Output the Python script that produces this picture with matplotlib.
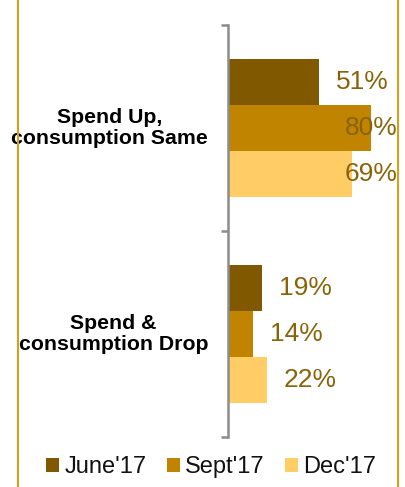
import matplotlib
matplotlib.use("Agg")
from matplotlib import pyplot as plt
from matplotlib.lines import Line2D
import numpy as np

categories = ["Spend Up,\nconsumption Same", "Spend &\nconsumption Drop"]
series = ["June'17", "Sept'17", "Dec'17"]
june = [0.51, 0.19]
sept = [0.80, 0.14]
dec = [0.69, 0.22]
colors = ["#7F5800", "#C08400", "#FFCC66"]

plt.rcParams['font.family'] = ['Liberation Sans', 'DejaVu Sans']

W, H = 405, 487
fig = plt.figure(figsize=(W / 100, H / 100), dpi=100)
fig.patch.set_facecolor("white")

# axes: left spine at x=228 px, from y=25 to y=437 px, right edge at 398 px
ax = fig.add_axes([228 / W, 1 - 437 / H, (398 - 228) / W, (437 - 25) / H])
ax.set_xlim(0, 170 / 179)
ax.set_ylim(1.5, -0.5)

bh = 0.222
y = np.arange(len(categories))
for i, (name, vals) in enumerate(zip(series, [june, sept, dec])):
    pos = y + (i - 1) * bh
    ax.barh(pos, vals, height=bh, color=colors[i], label=name)
    for p, v in zip(pos, vals):
        if v > 0.6:
            # not enough room on the right: pin to the axes edge
            ax.text(1.0, p, f"{v:.0%}", transform=ax.get_yaxis_transform(),
                    ha="right", va="center", fontsize=19, color="#8A6308", clip_on=False)
        else:
            ax.annotate(f"{v:.0%}", (v, p), xytext=(12, 0), textcoords="offset points",
                        ha="left", va="center", fontsize=19, color="#8A6308")

for s in ["top", "right", "bottom"]:
    ax.spines[s].set_visible(False)
ax.spines["left"].set_color("#8C8C8C")
ax.spines["left"].set_linewidth(1.8)
ax.set_xticks([])
ax.set_yticks([-0.5, 0.5, 1.5])
ax.set_yticklabels([])
ax.tick_params(axis="y", length=5, width=1.8, color="#8C8C8C")

for yy, cat in zip(y, categories):
    ax.text(-20 / 179, yy, cat, ha="right", va="center", multialignment="center",
            fontsize=15.3, fontweight="bold", color="black", linespacing=1.15,
            transform=ax.transData, clip_on=False)

fig.legend(loc="center", bbox_to_anchor=(211 / W, 1 - 467 / H), ncol=3, frameon=False,
           fontsize=17, handlelength=0.55, handleheight=0.55, handletextpad=0.22,
           columnspacing=0.85, borderaxespad=0, labelcolor="#111111")

for xx in [18, 398]:
    fig.add_artist(Line2D([xx / W, xx / W], [0, 1], color="#D4A21A", lw=1.5))

fig.savefig("out.png", dpi=100)
